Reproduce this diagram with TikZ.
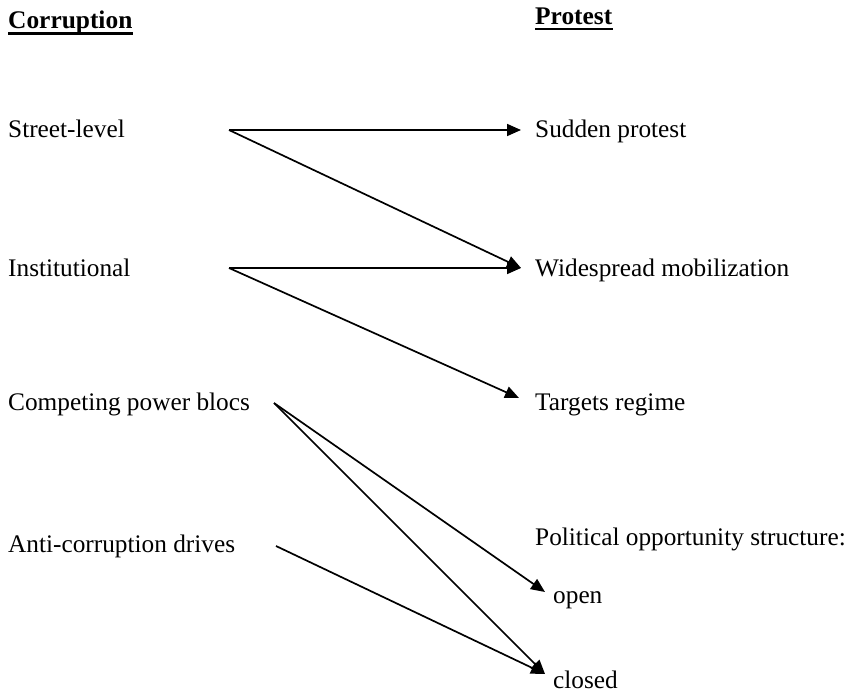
\documentclass[tikz,border=0pt]{standalone}
\usepackage{fontspec}
\setmainfont{Liberation Serif}
\usetikzlibrary{arrows.meta}
\begin{document}
\begin{tikzpicture}[x=1pt,y=-1pt,
  lbl/.style={anchor=base west,inner sep=0pt,font=\fontsize{25.3}{30}\selectfont},
  hdr/.style={lbl,font=\fontsize{25.4}{30}\selectfont\bfseries},
  ul/.style={line width=2.8pt},
  conn/.style={line width=1.7pt,-{Triangle[length=14pt,width=12pt]}}]
\useasboundingbox[fill=white] (0,0) rectangle (851,695);
% headers
\node[hdr] (hc) at (8,29) {Corruption};
\node[hdr] (hp) at (535,25) {Protest};
\draw[ul] ([yshift=-4.5pt]hc.base west) -- ([yshift=-4.5pt]hc.base east);
\draw[ul] ([yshift=-4pt]hp.base west) -- ([yshift=-4pt]hp.base east);
% left column
\node[lbl] (a1) at (8,138) {Street-level};
\node[lbl] (a2) at (8,276) {Institutional};
\node[lbl] (a3) at (8,410) {Competing power blocs};
\node[lbl] (a4) at (8,552) {Anti-corruption drives};
% right column
\node[lbl] (b1) at (535,138) {Sudden protest};
\node[lbl] (b2) at (535,276) {Widespread mobilization};
\node[lbl] (b3) at (535,410) {Targets regime};
\node[lbl] (b4) at (535,545) {Political opportunity structure:};
\node[lbl] (b5) at (553,603) {open};
\node[lbl] (b6) at (553,688) {closed};
% connector ends
\coordinate (s1) at (229,130);
\coordinate (s2) at (229,268);
\coordinate (s3) at (274,403);
\coordinate (s4) at (276,546);
\coordinate (e1) at (521,130);
\coordinate (e2) at (521,268);
\coordinate (e3) at (519,398);
\coordinate (e5) at (545,592);
\coordinate (e6) at (545,674);
% connectors
\draw[conn] (s1) -- (e1);
\draw[conn] (s1) -- (e2);
\draw[conn] (s2) -- (e2);
\draw[conn] (s2) -- (e3);
\draw[conn] (s3) -- (e5);
\draw[conn] (s3) -- (e6);
\draw[conn] (s4) -- (e6);
\end{tikzpicture}
\end{document}
